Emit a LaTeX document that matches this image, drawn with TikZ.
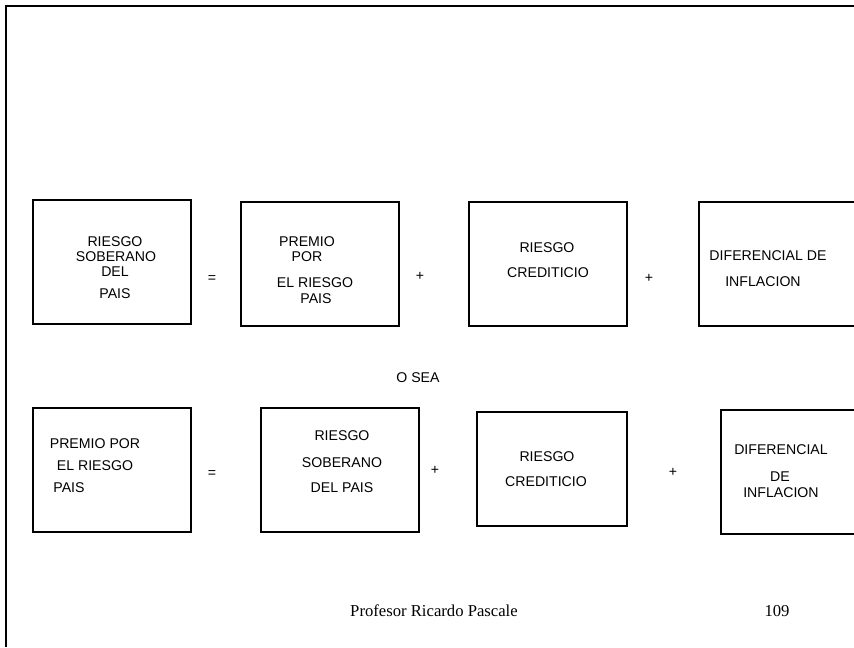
\documentclass[tikz,border=0pt]{standalone}
\usepackage{fontspec}
\setmainfont{Liberation Serif}
\setsansfont{Liberation Sans}
\begin{document}
\begin{tikzpicture}[x=0.75pt,y=-0.75pt,
	box/.style={draw, line width=1.5pt, minimum width=118.5pt, minimum height=93pt, inner sep=0pt},
	lbl/.style={inner sep=0pt, font=\sffamily\fontsize{10.6}{12}\selectfont},
	foot/.style={inner sep=0pt, anchor=base, font=\fontsize{12.5}{14}\selectfont}]
	\useasboundingbox (0,0) rectangle (854,647);
	\clip (0,0) rectangle (854,647);
	\draw[line width=1.5pt] (5.5,647) -- (5.5,6) -- (854,6);
	% first row
	\node[box] (b1) at (112,262) {};
	\node[box] (b2) at (320,264) {};
	\node[box] (b3) at (548,264) {};
	\node[box] (b4) at (778,264) {};
	\node[lbl] (b1a) at (115,242) {RIESGO};
	\node[lbl] (b1b) at (116,257) {SOBERANO};
	\node[lbl] (b1c) at (115,272) {DEL};
	\node[lbl] (b1d) at (115,294) {PAIS};
	\node[lbl] (b2a) at (307,242) {PREMIO};
	\node[lbl] (b2b) at (307,257) {POR};
	\node[lbl] (b2c) at (315,283) {EL RIESGO};
	\node[lbl] (b2d) at (316,299) {PAIS};
	\node[lbl] (b3a) at (547,248) {RIESGO};
	\node[lbl] (b3b) at (548,273) {CREDITICIO};
	\node[lbl] (b4a) at (768,256) {DIFERENCIAL DE};
	\node[lbl] (b4b) at (763,282) {INFLACION};
	\node[lbl] (eq1) at (212,279) {=};
	\node[lbl] (pl1) at (420,276) {+};
	\node[lbl] (pl2) at (649,278) {+};
	\node[lbl] (osea) at (418,378) {O SEA};
	% second row
	\node[box] (c1) at (112,470) {};
	\node[box] (c2) at (340,470) {};
	\node[box, minimum width=112.5pt, minimum height=85.5pt] (c3) at (552,469) {};
	\node[box] (c4) at (800,472) {};
	\node[lbl] (c1a) at (95,444) {PREMIO POR};
	\node[lbl] (c1b) at (95,466) {EL RIESGO};
	\node[lbl] (c1c) at (69,488) {PAIS};
	\node[lbl] (c2a) at (342,436) {RIESGO};
	\node[lbl] (c2b) at (342,463) {SOBERANO};
	\node[lbl] (c2c) at (342,488) {DEL PAIS};
	\node[lbl] (c3a) at (547,457) {RIESGO};
	\node[lbl] (c3b) at (546,482) {CREDITICIO};
	\node[lbl] (c4a) at (781,450) {DIFERENCIAL};
	\node[lbl] (c4b) at (780,477) {DE};
	\node[lbl] (c4c) at (781,493) {INFLACION};
	\node[lbl] (eq2) at (212,474) {=};
	\node[lbl] (pl3) at (435,470) {+};
	\node[lbl] (pl4) at (673,472) {+};
	% footer
	\node[foot] (autor) at (434,616) {Profesor Ricardo Pascale};
	\node[foot] (pag) at (777,616) {109};
\end{tikzpicture}
\end{document}
